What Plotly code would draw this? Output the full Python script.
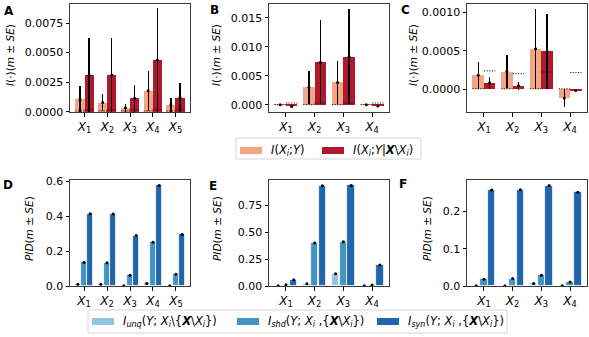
import plotly.graph_objects as go

W, H = 589, 337

# ---------------- data ----------------
# A : five predictors
a_mi = [0.00108, 0.00077, 0.00034, 0.00176, 0.00057]
a_mi_se = [0.00110, 0.00075, 0.00034, 0.00171, 0.00057]
a_cmi = [0.00310, 0.00310, 0.00114, 0.00437, 0.00119]
a_cmi_se = [0.00312, 0.00310, 0.00113, 0.00443, 0.00120]
a_mi_null = [0.00006, 0.00006, 0.00006, 0.00006, 0.00006]
a_cmi_null = [0.00016, 0.00016, 0.00016, 0.00016, 0.00016]

# B : four predictors
b_mi = [0.00001, 0.00299, 0.00385, 0.00001]
b_mi_se = [0.00006, 0.00290, 0.00379, 0.00006]
b_cmi = [-0.00028, 0.00736, 0.00833, -0.00022]
b_cmi_se = [0.00010, 0.00730, 0.00827, 0.00010]
b_mi_null = [0.00003, 0.00003, 0.00003, 0.00003]
b_cmi_null = [0.00030, 0.00030, 0.00030, 0.00030]

# C : four predictors
c_mi = [0.000180, 0.000228, 0.000526, -0.000116]
c_mi_se = [0.000178, 0.000216, 0.000524, 0.000117]
c_cmi = [0.000082, 0.000043, 0.000490, -0.000020]
c_cmi_se = [0.000080, 0.000052, 0.000490, 0.000005]
c_mi_null = [0.000003, 0.000003, 0.000003, 0.000003]
c_cmi_null = [0.000237, 0.000200, 0.000222, 0.000215]

# D, E, F : PID atoms
d_unq = [0.010, 0.010, 0.002, 0.015, 0.002]
d_shd = [0.135, 0.133, 0.061, 0.250, 0.067]
d_syn = [0.413, 0.411, 0.288, 0.575, 0.295]
d_se = [0.003, 0.003, 0.003, 0.003, 0.003]

e_unq = [0.002, 0.020, 0.114, 0.002]
e_shd = [0.012, 0.398, 0.410, 0.009]
e_syn = [0.059, 0.929, 0.932, 0.194]
e_se = [0.004, 0.004, 0.004, 0.004]

f_unq = [0.001, 0.001, 0.007, 0.001]
f_shd = [0.018, 0.020, 0.029, 0.011]
f_syn = [0.258, 0.259, 0.270, 0.252]
f_se = [0.0012, 0.0012, 0.0012, 0.0012]

LIGHT_RED = "#f4a582"
DARK_RED = "#b2182b"
BLUE1 = "#92c5de"
BLUE2 = "#4393c3"
BLUE3 = "#2166ac"
FONT = "DejaVu Sans"


def px(x):
    return x / W


def py(y):
    return 1 - y / H


def tick_labels(n):
    return ["<i>X</i><sub>%d</sub>" % (i + 1) for i in range(n)]


fig = go.Figure()


def bars(ax, pos, vals, se, color, width, edge=0):
    fig.add_trace(go.Bar(
        x=pos, y=vals, width=width, xaxis="x" + ax, yaxis="y" + ax,
        marker=dict(color=color, line=dict(color="white", width=edge)),
        error_y=dict(type="data", array=se, color="black", thickness=1.3, width=0),
        showlegend=False))
    fig.add_trace(go.Scatter(
        x=pos, y=vals, mode="markers", xaxis="x" + ax, yaxis="y" + ax,
        marker=dict(color="black", size=3), showlegend=False))


def null_lines(ax, pos, vals, half):
    xs, ys = [], []
    for p, v in zip(pos, vals):
        xs += [p - half, p + half, None]
        ys += [v, v, None]
    fig.add_trace(go.Scatter(
        x=xs, y=ys, mode="lines", xaxis="x" + ax, yaxis="y" + ax,
        line=dict(color="rgba(0,0,0,0.8)", width=1, dash="1.3px,1.3px"), showlegend=False))


def top_panel(ax, mi, mi_se, cmi, cmi_se, mi_null, cmi_null):
    n = len(mi)
    left = [i - 0.2 for i in range(n)]
    right = [i + 0.2 for i in range(n)]
    bars(ax, left, mi, mi_se, LIGHT_RED, 0.4)
    bars(ax, right, cmi, cmi_se, DARK_RED, 0.4)
    null_lines(ax, left, mi_null, 0.2)
    null_lines(ax, right, cmi_null, 0.2)


def pid_panel(ax, unq, shd, syn, se):
    n = len(unq)
    for off, vals, col in [(-0.27, unq, BLUE1), (0.0, shd, BLUE2), (0.27, syn, BLUE3)]:
        bars(ax, [i + off for i in range(n)], vals, se, col, 0.26, edge=0.8)


top_panel("", a_mi, a_mi_se, a_cmi, a_cmi_se, a_mi_null, a_cmi_null)
top_panel("2", b_mi, b_mi_se, b_cmi, b_cmi_se, b_mi_null, b_cmi_null)
top_panel("3", c_mi, c_mi_se, c_cmi, c_cmi_se, c_mi_null, c_cmi_null)
pid_panel("4", d_unq, d_shd, d_syn, d_se)
pid_panel("5", e_unq, e_shd, e_syn, e_se)
pid_panel("6", f_unq, f_shd, f_syn, f_se)

# panel geometry in pixels
cols = [(70, 190), (269, 389), (467, 587)]
rows = [(4, 112), (180, 286)]

panels = [
    # name, col, row, n, xrange, yrange, dtick, fmt
    ("", 0, 0, 5, [-0.64, 4.64], [-0.00003, 0.00912], 0.0025, ".4f"),
    ("2", 1, 0, 4, [-0.59, 3.59], [-0.00125, 0.0174], 0.005, ".3f"),
    ("3", 2, 0, 4, [-0.59, 3.59], [-0.0003, 0.00111], 0.0005, ".4f"),
    ("4", 0, 1, 5, [-0.61, 4.61], [0, 0.606], 0.2, ".1f"),
    ("5", 1, 1, 4, [-0.59, 3.59], [0, 0.982], 0.25, ".2f"),
    ("6", 2, 1, 4, [-0.59, 3.59], [0, 0.285], 0.1, ".1f"),
]

axis_style = dict(showline=True, mirror=True, linecolor="#3a3a3a", linewidth=1,
                  showgrid=False, zeroline=False, ticks="outside", ticklen=3.5,
                  tickwidth=1, tickcolor="black", automargin=False,
                  tickfont=dict(family=FONT, size=11, color="black"))

layout_axes = {}
for name, c, r, n, xr, yr, dt, fmt in panels:
    x0, x1 = cols[c]
    y0, y1 = rows[r]
    layout_axes["xaxis" + name] = dict(
        axis_style, domain=[px(x0), px(x1)], anchor="y" + name, range=xr,
        tickmode="array", tickvals=list(range(n)), ticktext=tick_labels(n),
        tickfont=dict(family=FONT, size=12, color="black"))
    layout_axes["yaxis" + name] = dict(
        axis_style, domain=[py(y1), py(y0)], anchor="x" + name, range=yr,
        dtick=dt, tick0=0, tickformat=fmt)

fig.update_layout(**layout_axes)

ann = []
# panel letters
for letter, x, y in [("A", 9, 11), ("B", 214, 10), ("C", 405, 10),
                     ("D", 8, 185), ("E", 213, 186), ("F", 403, 184)]:
    ann.append(dict(text="<b>%s</b>" % letter, x=px(x), y=py(y), xref="paper", yref="paper",
                    xanchor="center", yanchor="middle", showarrow=False,
                    font=dict(family=FONT, size=12, color="black")))

# y-axis titles
ytop = "<i>I</i>(·)(<i>m</i> ± <i>SE</i>)"
ybot = "<i>PID</i>(<i>m</i> ± <i>SE</i>)"
for text, x, yc in [(ytop, 10, 55), (ytop, 216, 55), (ytop, 413, 55),
                    (ybot, 29, 229), (ybot, 217, 229), (ybot, 427, 229)]:
    ann.append(dict(text=text, x=px(x), y=py(yc), xref="paper", yref="paper",
                    xanchor="center", yanchor="middle", textangle=-90, showarrow=False,
                    font=dict(family=FONT, size=10.5, color="black")))

shapes = []


def legend_box(x0, x1, y0, y1):
    shapes.append(dict(type="rect", xref="paper", yref="paper",
                       x0=px(x0), x1=px(x1), y0=py(y1), y1=py(y0),
                       line=dict(color="#d6d6d6", width=1), fillcolor="white"))


def legend_item(sx, y, color, text):
    shapes.append(dict(type="rect", xref="paper", yref="paper",
                       x0=px(sx), x1=px(sx + 22), y0=py(y + 3.5), y1=py(y - 3.5),
                       line=dict(width=0), fillcolor=color))
    ann.append(dict(text=text, x=px(sx + 29), y=py(y), xref="paper", yref="paper",
                    xanchor="left", yanchor="middle", showarrow=False,
                    font=dict(family=FONT, size=11.5, color="black")))


Xb = "<b><i>X</i></b>"
Xi = "<i>X<sub>i</sub></i>"

legend_box(236, 421, 138, 159)
legend_item(240, 150.5, LIGHT_RED, "<i>I</i>(%s;<i>Y</i>)" % Xi)
legend_item(322, 150.5, DARK_RED, "<i>I</i>(%s;<i>Y</i>|%s\\%s)" % (Xi, Xb, Xi))

legend_box(88, 507, 310, 333)
legend_item(92, 321.5, BLUE1, "<i>I<sub>unq</sub></i>(<i>Y</i>; %s\\{%s\\%s})" % (Xi, Xb, Xi))
legend_item(237, 321.5, BLUE2, "<i>I<sub>shd</sub></i>(<i>Y</i>; %s ,{%s\\%s})" % (Xi, Xb, Xi))
legend_item(377, 321.5, BLUE3, "<i>I<sub>syn</sub></i>(<i>Y</i>; %s ,{%s\\%s})" % (Xi, Xb, Xi))

fig.update_layout(width=W, height=H, margin=dict(l=0, r=0, t=0, b=0, autoexpand=False),
                  paper_bgcolor="white", plot_bgcolor="white", barmode="overlay",
                  bargap=0, annotations=ann, shapes=shapes, showlegend=False,
                  font=dict(family=FONT))

# page body has an 8px default margin; drop it so the figure fills the window
fig.write_html("out.html", config={"displayModeBar": False},
               post_script="document.body.style.margin='0';")
